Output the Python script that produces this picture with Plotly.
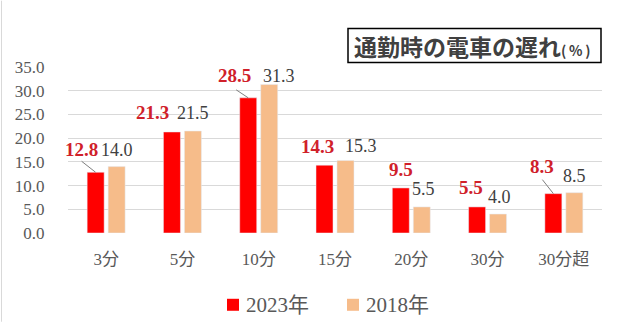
import plotly.graph_objects as go

# Share of respondents who saw their commuter train delayed, by delay length (%)
categories = ["3分", "5分", "10分", "15分", "20分", "30分", "30分超"]
vals_2023 = [12.8, 21.3, 28.5, 14.3, 9.5, 5.5, 8.3]
vals_2018 = [14.0, 21.5, 31.3, 15.3, 5.5, 4.0, 8.5]
series_names = ["2023年", "2018年"]
y_ticks = [0, 5, 10, 15, 20, 25, 30, 35]

# Label placement (pixel offsets from category centre / bar top)
label_dx_2023 = [-25, -30, -24, -18, -10, -17, -22]
label_dy_2023 = [23, 19, 22, 19, 18, 19, 27]
label_dx_2018 = [11, 11, 20, 26, 12, 12, 11]
label_dy_2018 = [17, 18, 9, 14, 18, 17, 17]
# Leader lines for some 2023 labels: (category index, dx start, dy start)
leaders = [(0, -14, 11), (2, -12, 8), (6, -11, 14)]

RED = "#FF0000"
PEACH = "#F6BC8A"
RED_TEXT = "#D0202A"
GRAY_TEXT = "#404040"
AXIS_TEXT = "#595959"
SERIF = "'Liberation Serif', 'Noto Sans CJK JP', serif"

W, H = 623, 322
ML, MR, MT, MB = 68, 21, 66.5, 89
PW, PH = W - ML - MR, H - MT - MB

fig = go.Figure()
fig.add_bar(x=categories, y=vals_2023, name=series_names[0], marker_color=RED, showlegend=False)
fig.add_bar(x=categories, y=vals_2018, name=series_names[1], marker_color=PEACH, showlegend=False)

bar_half_offset = 10.5  # distance of each bar centre from its category centre (px)

annotations = []
for i, c in enumerate(categories):
    annotations.append(dict(
        x=c, y=vals_2023[i], xref="x", yref="y", text=f"<b>{vals_2023[i]:.1f}</b>",
        showarrow=False, xshift=label_dx_2023[i], yshift=label_dy_2023[i],
        xanchor="center", yanchor="middle",
        font=dict(family=SERIF, size=19, color=RED_TEXT)))
    annotations.append(dict(
        x=c, y=vals_2018[i], xref="x", yref="y", text=f"{vals_2018[i]:.1f}",
        showarrow=False, xshift=label_dx_2018[i], yshift=label_dy_2018[i],
        xanchor="center", yanchor="middle",
        font=dict(family=SERIF, size=18, color=GRAY_TEXT)))

shapes = []
for idx, dx, dy in leaders:
    shapes.append(dict(
        type="line", xref="x", yref="y", xsizemode="pixel", ysizemode="pixel",
        xanchor=idx, yanchor=vals_2023[idx],
        x0=-bar_half_offset + dx, y0=dy, x1=-bar_half_offset, y1=0,
        line=dict(color="#7f7f7f", width=1)))


def px_to_paper(px, py):
    return (px - ML) / PW, (H - MB - py) / PH


# Title box
bx0, by0 = px_to_paper(348, 62)
bx1, by1 = px_to_paper(601, 28)
shapes.append(dict(type="rect", xref="paper", yref="paper", x0=bx0, x1=bx1, y0=by0, y1=by1,
                   line=dict(color="#000000", width=1.5), fillcolor="white", layer="above"))
tx, ty = px_to_paper(472, 45.5)
annotations.append(dict(
    x=tx, y=ty, xref="paper", yref="paper", showarrow=False, xanchor="center", yanchor="middle",
    text="<b>通勤時の電車の遅れ</b><span style='font-size:14px'><b>(\u2009%\u2009)</b></span>",
    font=dict(family="Noto Sans CJK JP", size=23, color="#404040")))

# Legend drawn as swatches + labels
legend_items = [(233, 244, RED, series_names[0]), (353, 364, PEACH, series_names[1])]
for sx, lx, col, name in legend_items:
    px, py = px_to_paper(sx, 305)
    shapes.append(dict(type="rect", xref="paper", yref="paper", xsizemode="pixel", ysizemode="pixel",
                       xanchor=px, yanchor=py, x0=-6, x1=6, y0=-6, y1=6,
                       fillcolor=col, line=dict(width=0)))
    lpx, lpy = px_to_paper(lx, 305)
    annotations.append(dict(x=lpx, y=lpy, xref="paper", yref="paper", showarrow=False,
                            xanchor="left", yanchor="middle", text=name,
                            font=dict(family=SERIF, size=21, color=AXIS_TEXT)))

# Thin frame line on the left edge
lx0, _ = px_to_paper(1.5, 0)
shapes.append(dict(type="line", xref="paper", yref="paper", x0=lx0, x1=lx0,
                   y0=px_to_paper(0, H)[1], y1=px_to_paper(0, 0)[1],
                   line=dict(color="#d9d9d9", width=1)))

fig.update_layout(
    width=W, height=H, margin=dict(l=ML, r=MR, t=MT, b=MB),
    paper_bgcolor="white", plot_bgcolor="white",
    barmode="group", bargap=0.45, bargroupgap=0.19,
    annotations=annotations, shapes=shapes,
    xaxis=dict(type="category", range=[-0.5, len(categories) - 0.5],
               showgrid=False, showline=False, zeroline=False,
               tickfont=dict(family=SERIF, size=17, color=AXIS_TEXT),
               ticks="outside", ticklen=0, ticklabelstandoff=11),
    yaxis=dict(range=[0, 35], tickvals=y_ticks, tickformat=".1f",
               showgrid=True, gridcolor="#d9d9d9", gridwidth=1, zeroline=False, showline=False,
               tickfont=dict(family=SERIF, size=17, color=AXIS_TEXT),
               ticks="outside", ticklen=0, ticklabelstandoff=19),
)

fig.write_html("out.html")
